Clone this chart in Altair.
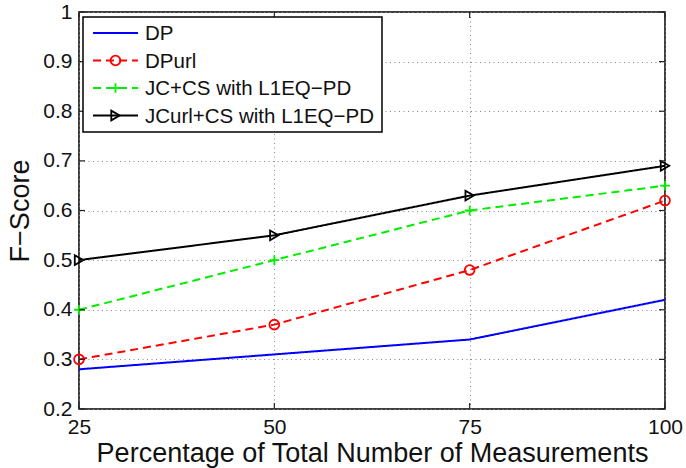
import altair as alt
import pandas as pd

# Measurement percentages on the x axis
pct = [25, 50, 75, 100]

# F-score per method
series_names = ["DP", "DPurl", "JC+CS with L1EQ\u2212PD", "JCurl+CS with L1EQ\u2212PD"]
dp = [0.28, 0.31, 0.34, 0.42]
dpurl = [0.30, 0.37, 0.48, 0.62]
jc_cs = [0.40, 0.50, 0.60, 0.65]
jcurl_cs = [0.50, 0.55, 0.63, 0.69]

x_ticks = [25, 50, 75, 100]
y_ticks = [0.2, 0.3, 0.4, 0.5, 0.6, 0.7, 0.8, 0.9, 1.0]

colors = ["#0000ff", "#ff0000", "#00ee00", "#000000"]
dashes = [[1, 0], [8, 5], [8, 5], [1, 0]]
shapes = [None, "circle", "M-1,0H1M0,-1V1", "triangle-right"]

W, H = 586, 397
FONT = "Liberation Sans"

rows = []
for name, vals in zip(series_names, [dp, dpurl, jc_cs, jcurl_cs]):
    for x, y in zip(pct, vals):
        rows.append({"pct": x, "score": y, "method": name})
df = pd.DataFrame(rows)

xscale = alt.Scale(domain=[25, 100], nice=False, zero=False)
yscale = alt.Scale(domain=[0.2, 1.0], nice=False, zero=False)

xaxis = alt.Axis(
    title="Percentage of Total Number of Measurements",
    values=x_ticks, format="d", labelFlush=False, labelOverlap=False,
    ticks=False, tickSize=0, domain=False, labelPadding=7,
    labelFontSize=21, titleFontSize=27, labelFont=FONT, titleFont=FONT,
    labelColor="#111", titleColor="#111", titleFontWeight="normal",
    titleBaseline="alphabetic", titleY=52,
    grid=True, gridDash=[1, 3.5], gridColor="#888", gridWidth=1,
)
yaxis = alt.Axis(
    title="F\u2212Score",
    values=y_ticks, format=".1~f", labelFlush=False, labelOverlap=False,
    ticks=False, tickSize=0, domain=False, labelPadding=7,
    labelFontSize=21, titleFontSize=27, labelFont=FONT, titleFont=FONT,
    labelColor="#111", titleColor="#111", titleFontWeight="normal",
    titleX=-45, titleY=H / 2, titleAngle=-90, titleBaseline="bottom",
    titleAlign="center",
    grid=True, gridDash=[1, 3.5], gridColor="#888", gridWidth=1,
)


def xenc(field):
    return alt.X(field, scale=xscale, axis=xaxis)


def yenc(field):
    return alt.Y(field, scale=yscale, axis=yaxis)


lines = alt.Chart(df).mark_line(strokeWidth=2).encode(
    x=xenc("pct:Q"),
    y=yenc("score:Q"),
    color=alt.Color("method:N", scale=alt.Scale(domain=series_names, range=colors), legend=None),
    strokeDash=alt.StrokeDash("method:N", scale=alt.Scale(domain=series_names, range=dashes), legend=None),
    detail="method:N",
)

layers = [lines]

# Markers for each series
for name, col, shp in zip(series_names, colors, shapes):
    if shp is None:
        continue
    pts = alt.Chart(df[df["method"] == name]).mark_point(
        shape=shp, filled=False, size=95, strokeWidth=1.8, color=col, opacity=1
    ).encode(x=xenc("pct:Q"), y=yenc("score:Q"))
    layers.append(pts)

# Inward tick marks on all four sides
xt = pd.DataFrame({"pct": x_ticks})
yt = pd.DataFrame({"score": y_ticks})
tick_style = dict(color="#222", strokeWidth=1.2)
layers += [
    alt.Chart(xt).mark_rule(**tick_style).encode(
        x=xenc("pct:Q"), y=alt.value(H - 6), y2=alt.value(H)),
    alt.Chart(xt).mark_rule(**tick_style).encode(
        x=xenc("pct:Q"), y=alt.value(0), y2=alt.value(6)),
    alt.Chart(yt).mark_rule(**tick_style).encode(
        y=yenc("score:Q"), x=alt.value(0), x2=alt.value(6)),
    alt.Chart(yt).mark_rule(**tick_style).encode(
        y=yenc("score:Q"), x=alt.value(W - 6), x2=alt.value(W)),
]

# Legend box in the upper-left corner
legend_bg = alt.Chart(pd.DataFrame({"a": [0]})).mark_rect(
    fill="white", stroke="black", strokeWidth=1.5
).encode(x=alt.value(4), x2=alt.value(303), y=alt.value(5), y2=alt.value(120))
layers.append(legend_bg)

row_y = [21, 48.5, 76, 103.5]
for i, (name, col, dash, shp) in enumerate(zip(series_names, colors, dashes, shapes)):
    one = pd.DataFrame({"method": [name]})
    yy = row_y[i]
    layers.append(
        alt.Chart(one).mark_rule(color=col, strokeWidth=2, strokeDash=dash).encode(
            x=alt.value(14), x2=alt.value(59), y=alt.value(yy))
    )
    if shp is not None:
        layers.append(
            alt.Chart(one).mark_point(
                shape=shp, filled=False, size=95, strokeWidth=1.8, color=col, opacity=1
            ).encode(x=alt.value(36.5), y=alt.value(yy))
        )
    layers.append(
        alt.Chart(one).mark_text(
            align="left", baseline="middle", font=FONT, fontSize=20.5, color="#111"
        ).encode(x=alt.value(66), y=alt.value(yy + 1), text="method:N")
    )

chart = alt.layer(*layers).properties(
    width=W, height=H,
    autosize=alt.AutoSizeParams(type="none"),
    padding={"left": 79, "top": 12, "right": 21, "bottom": 59},
).configure_view(stroke="black", strokeWidth=1.5)

chart.save("out.html", embed_options={"renderer": "svg", "actions": False})
